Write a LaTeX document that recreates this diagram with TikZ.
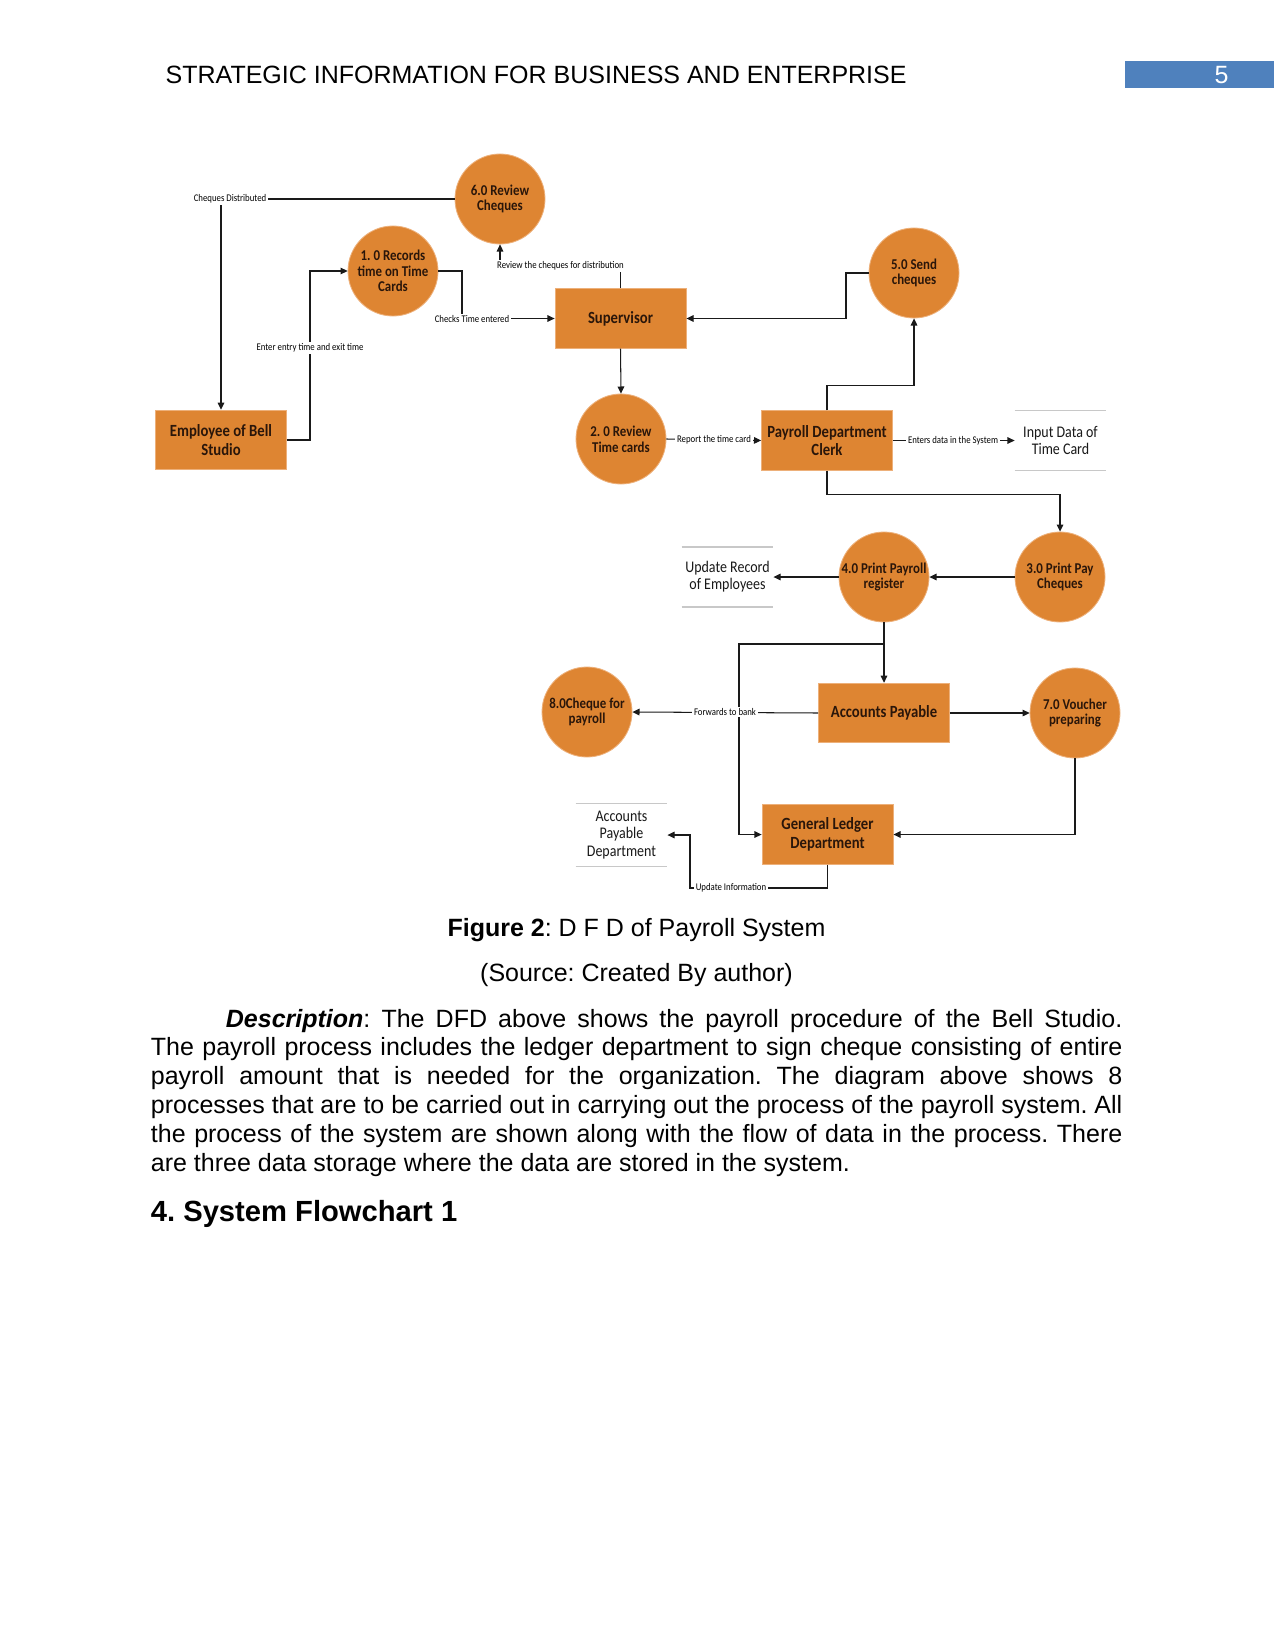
\documentclass[tikz,border=0pt]{standalone}
\usepackage{fontspec}
\setmainfont{Liberation Sans}
\newfontfamily\dfont[FakeStretch=0.86]{Carlito}
\usetikzlibrary{arrows.meta,calc}
\definecolor{orng}{HTML}{DE8532}
\definecolor{orngedge}{HTML}{EDB07A}
\definecolor{ntext}{HTML}{2A160A}
\definecolor{hdrblue}{HTML}{4F81BD}
\definecolor{storeline}{HTML}{C8C8C8}
\definecolor{flowc}{HTML}{1A1A1A}
\frenchspacing
\begin{document}
\frenchspacing
\begin{tikzpicture}[x=0.48pt,y=-0.48pt,
 proc/.style={circle,fill=orng,draw=orngedge,line width=0.4pt,minimum size=43.2pt,inner sep=0pt,align=center,text=ntext,font=\dfont\bfseries\fontsize{7.2}{7.5}\selectfont},
 ent/.style={rectangle,fill=orng,draw=orngedge,line width=0.4pt,minimum width=62.9pt,minimum height=28.6pt,inner sep=0pt,align=center,text=ntext,font=\dfont\bfseries\fontsize{8.2}{8.8}\selectfont},
 store/.style={rectangle,minimum width=43.7pt,minimum height=28.4pt,inner sep=0pt,align=center,text=black!90,font=\dfont\fontsize{7.8}{8.3}\selectfont},
 flow/.style={draw=flowc,line width=0.5pt,-{Triangle[length=3.4pt,width=3.2pt]}},
 conn/.style={draw=flowc,line width=0.5pt},
 lbl/.style={fill=white,inner xsep=0.8pt,inner ysep=0.6pt,text=black,font=\dfont\fontsize{4.9}{5.2}\selectfont},
 sline/.style={draw=storeline,line width=0.5pt},
 bodyline/.style={anchor=base west,inner sep=0pt,font=\fontsize{12}{14}\selectfont\frenchspacing},
]
\useasboundingbox (0,0) rectangle (1275,1651);
\fill[white] (0,0) rectangle (1275,1651);

% header
\node[anchor=base west,inner sep=0pt,font=\fontsize{12}{14}\selectfont] (hdr) at (165.3,84) {STRATEGIC INFORMATION FOR BUSINESS AND ENTERPRISE};
\fill[hdrblue] (1125,61) rectangle (1274,88);
\node[anchor=base,inner sep=0pt,text=white,font=\fontsize{12}{14}\selectfont] (pg) at (1221.5,83.5) {5};

% processes
\node[proc] (c6) at (500,199) {6.0 Review\\Cheques};
\node[proc] (c1) at (393,271) {1. 0 Records\\time on Time\\Cards};
\node[proc] (c5) at (914,273) {5.0 Send\\cheques};
\node[proc] (c2) at (621,439) {2. 0 Review\\Time cards};
\node[proc] (c4) at (884,577) {4.0 Print Payroll\\register};
\node[proc] (c3) at (1060,577) {3.0 Print Pay\\Cheques};
\node[proc] (c8) at (587,712) {8.0Cheque for\\payroll};
\node[proc] (c7) at (1075,713) {7.0 Voucher\\preparing};

% entities
\node[ent] (emp) at (221,440) {Employee of Bell\\Studio};
\node[ent] (sup) at (620.5,318.5) {Supervisor};
\node[ent] (clerk) at (827,440.5) {Payroll Department\\Clerk};
\node[ent] (ap) at (884,713) {Accounts Payable};
\node[ent] (gl) at (827.5,834.5) {General Ledger\\Department};

% stores
\node[store] (s1) at (1060.5,440.5) {Input Data of\\Time Card};
\node[store] (s2) at (727.5,577) {Update Record\\of Employees};
\node[store,minimum height=29.8pt] (s3) at (621.5,835) {Accounts\\Payable\\Department};
\foreach \s in {s1,s2,s3}{
  \draw[sline] (\s.north west) -- (\s.north east);
  \draw[sline] (\s.south west) -- (\s.south east);
}

% connectors
\draw[flow] (c6.west) -| (emp.north);
\draw[flow] (emp.east) -- (310,440) |- (c1.west);
\draw[flow] (c1.east) -- (462,271) |- (sup.west);
\coordinate (rv) at (500,266);
\draw[flow] (sup.north) |- (rv) -- (c6.south);
\draw[flow] (c5.west) -- (846,273) |- (sup.east);
\draw[flow] (clerk.north) -- ++(0,-25) -| (c5.south);
\draw[flow] (sup.south) -- (c2.north);
\draw[flow] (c2.east) -- (clerk.west);
\draw[flow] (clerk.east) -- (s1.west);
\draw[flow] (clerk.south) -- ++(0,24) -| (c3.north);
\draw[flow] (c3.west) -- (c4.east);
\draw[flow] (c4.west) -- (s2.east);
\draw[flow] (c4.south) -- (ap.north);
\coordinate (br) at (884,644);
\draw[flow] (br) -- (739,644) |- (gl.west);
\draw[flow] (ap.west) -- (c8.east);
\draw[flow] (ap.east) -- (c7.west);
\draw[flow] (c7.south) |- (gl.east);
\draw[flow] (gl.south) |- (690,888) |- (s3.east);

% flow labels
\node[lbl] (l1) at (230,199) {Cheques Distributed};
\node[lbl] (l2) at (310,348) {Enter entry time and exit time};
\node[lbl] (l3) at (472,319) {Checks Time entered};
\node[lbl] (l4) at (560.5,266) {Review the cheques for distribution};
\node[lbl] (l5) at (714,440) {Report the time card};
\node[lbl] (l6) at (953,441) {Enters data in the System};
\node[lbl] (l7) at (725,712) {Forwards to bank};
\node[lbl] (l8) at (731,888) {Update Information};

% caption
\node[anchor=base,inner sep=0pt,font=\fontsize{12}{14}\selectfont\frenchspacing] (cap1) at (636.5,936.5) {\textbf{Figure 2}: D F D of Payroll System};
\node[anchor=base,inner sep=0pt,font=\fontsize{12}{14}\selectfont\frenchspacing] (cap2) at (636.5,981.5) {(Source: Created By author)};

% description
\node[bodyline] (p1) at (150.5,1027) {\makebox[466.3pt][s]{\hspace*{36pt}\textbf{\textit{Description}}: The DFD above shows the payroll procedure of the Bell Studio.}};
\node[bodyline] (p2) at (150.5,1055.8) {\makebox[466.3pt][s]{The payroll process includes the ledger department to sign cheque consisting of entire}};
\node[bodyline] (p3) at (150.5,1084.6) {\makebox[466.3pt][s]{payroll amount that is needed for the organization. The diagram above shows 8}};
\node[bodyline] (p4) at (150.5,1113.4) {\makebox[466.3pt][s]{processes that are to be carried out in carrying out the process of the payroll system. All}};
\node[bodyline] (p5) at (150.5,1142.2) {\makebox[466.3pt][s]{the process of the system are shown along with the flow of data in the process. There}};
\node[bodyline] (p6) at (150.5,1171) {are three data storage where the data are stored in the system.};

\node[anchor=base west,inner sep=0pt,font=\fontsize{14}{17}\selectfont\bfseries] (h4) at (150.5,1221) {4. System Flowchart 1};
\end{tikzpicture}
\end{document}
